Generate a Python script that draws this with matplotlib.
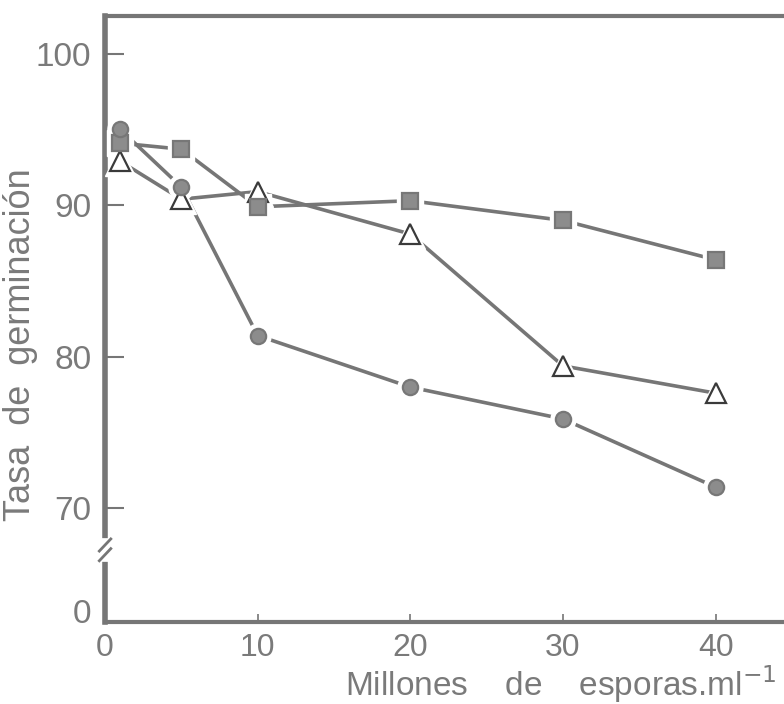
import numpy as np
import matplotlib
matplotlib.use("Agg")
import matplotlib.pyplot as plt

plt.rcParams["font.family"] = ["Liberation Sans Narrow", "Liberation Sans", "DejaVu Sans"]

# millones de esporas por ml
dosis = [1, 5, 10, 20, 30, 40]

# tasa de germinacion por serie
circulos = [95.0, 91.2, 81.4, 78.0, 75.9, 71.4]
cuadrados = [94.1, 93.7, 89.9, 90.3, 89.0, 86.4]
triangulos = [92.9, 90.4, 90.9, 88.1, 79.4, 77.6]

ytick_vals = [63.2, 70, 80, 90, 100]
ytick_labels = ["0", "70", "80", "90", "100"]
xtick_vals = [0, 10, 20, 30, 40]
xtick_labels = ["0", "10", "20", "30", "40"]

GRIS = "#767676"
TEXTO = "#7a7a7a"

fig = plt.figure(figsize=(7.84, 7.04), dpi=100)
ax = fig.add_axes([0.134, 0.1165, 0.915, 0.861])


def serie(y, marker, ms, face, edge):
    ax.plot(dosis, y, color=GRIS, lw=2.6, zorder=2, solid_capstyle="butt")
    # halo blanco para dejar hueco entre linea y marcador
    ax.plot(dosis, y, ls="none", marker=marker, ms=ms + 7, color="white",
            mec="white", zorder=3)
    ax.plot(dosis, y, ls="none", marker=marker, ms=ms, mfc=face, mec=edge,
            mew=1.6, zorder=4)


serie(triangulos, "^", 15, "white", "#3a3a3a")
serie(cuadrados, "s", 12, "#8c8c8c", "#777777")
serie(circulos, "o", 11, "#8c8c8c", "#777777")

ax.set_xlim(0.26, 47)
ax.set_ylim(62.5, 102.5)

ax.set_yticks(ytick_vals)
ax.set_yticklabels(ytick_labels)
ax.set_xticks(xtick_vals)
ax.set_xticklabels(xtick_labels)
ax.tick_params(axis="y", direction="in", length=14, width=1.5, color=GRIS,
               labelsize=24, labelcolor=TEXTO, pad=10)
ax.tick_params(axis="x", direction="in", length=6, width=1.2, color=GRIS,
               labelsize=23, labelcolor=TEXTO, pad=8)
ax.yaxis.get_major_ticks()[0].tick1line.set_visible(False)
ax.xaxis.get_major_ticks()[0].tick1line.set_visible(False)

for s in ["left", "top", "bottom"]:
    ax.spines[s].set_color(GRIS)
ax.spines["left"].set_linewidth(4)
ax.spines["top"].set_linewidth(3)
ax.spines["bottom"].set_linewidth(3)
ax.spines["right"].set_visible(False)

# corte del eje y
yb = 0.119
ax.plot([0, 0], [yb - 0.012, yb + 0.012], transform=ax.transAxes, color="white",
        lw=7, clip_on=False, zorder=5)
ax.plot([-0.008, 0.008], [yb - 0.018, yb + 0.002], transform=ax.transAxes,
        color=GRIS, lw=2, clip_on=False, zorder=6)
ax.plot([-0.008, 0.008], [yb - 0.002, yb + 0.018], transform=ax.transAxes,
        color=GRIS, lw=2, clip_on=False, zorder=6)

fig.text(0.026, 0.511, "Tasa  de  germinación", rotation=90, ha="center",
         va="center", fontsize=26, color=TEXTO)
fig.text(0.99, 0.028, "Millones    de    esporas.ml$^{-1}$", ha="right",
         va="center", fontsize=24, color=TEXTO)

fig.savefig("out.png", dpi=100)
